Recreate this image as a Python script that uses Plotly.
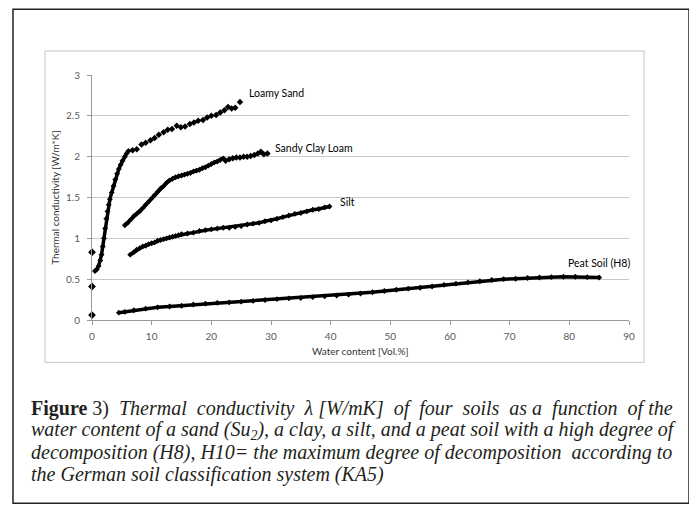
import plotly.graph_objects as go

# ---------------- data ----------------
# Loamy Sand: dense rising part and sparse upper part
loamy_x_dense = [0.5, 0.8, 1.1, 1.4, 1.6, 1.8, 2.0, 2.2, 2.4, 2.6, 2.8, 3.0, 3.3, 3.6, 3.9, 4.2, 4.5, 4.8, 5.1, 5.5, 5.8, 6.1]
loamy_y_dense = [0.60, 0.62, 0.66, 0.73, 0.80, 0.90, 1.00, 1.12, 1.24, 1.33, 1.41, 1.48, 1.56, 1.64, 1.72, 1.79, 1.85, 1.90, 1.95, 2.00, 2.04, 2.07]
loamy_x_sparse = [6.8, 7.5, 8.3, 9.0, 9.8, 10.5, 11.2, 12.0, 12.7, 13.4, 14.2, 14.9, 15.6, 16.4, 17.1, 17.8, 18.6, 19.3, 20.0, 20.8, 21.5, 22.2, 22.8, 23.4, 24.0, 24.8]
loamy_y_sparse = [2.08, 2.09, 2.15, 2.17, 2.20, 2.23, 2.27, 2.30, 2.33, 2.34, 2.38, 2.36, 2.37, 2.40, 2.42, 2.44, 2.45, 2.48, 2.50, 2.51, 2.54, 2.57, 2.61, 2.59, 2.60, 2.67]

# Sandy Clay Loam
scl_x_dense = [5.5, 6.0, 6.5, 7.0, 7.5, 8.0, 8.5, 9.0, 9.5, 10.0, 10.5, 11.0, 11.5, 12.0, 12.5, 13.0, 13.5, 14.0, 14.5, 15.0, 15.5, 16.0, 16.5, 17.0, 17.5, 18.0, 18.5, 19.0, 19.5, 20.0, 20.5, 21.0, 21.5, 22.0]
scl_y_dense = [1.16, 1.19, 1.23, 1.27, 1.30, 1.33, 1.37, 1.41, 1.45, 1.49, 1.53, 1.57, 1.61, 1.64, 1.68, 1.71, 1.73, 1.75, 1.76, 1.77, 1.78, 1.79, 1.80, 1.82, 1.83, 1.84, 1.86, 1.87, 1.89, 1.91, 1.93, 1.94, 1.96, 1.98]
scl_x_sparse = [22.4, 23.0, 23.6, 24.2, 24.8, 25.4, 26.0, 26.6, 27.2, 27.8, 28.3, 28.8, 29.4]
scl_y_sparse = [1.95, 1.97, 1.98, 1.99, 1.99, 2.00, 2.00, 2.01, 2.02, 2.04, 2.06, 2.03, 2.04]

# Silt
silt_x = [6.4, 7.0, 7.5, 8.0, 8.5, 9.0, 9.5, 10.0, 10.5, 11.0, 11.5, 12.0, 12.5, 13.0, 13.5, 14.0, 14.5, 15.0, 16, 17, 18, 19, 20, 21, 22, 23, 24, 25, 26, 27, 28, 29, 30, 31, 32, 33, 34, 35, 36, 37, 38, 39, 39.8]
silt_y = [0.80, 0.83, 0.86, 0.88, 0.90, 0.91, 0.93, 0.94, 0.95, 0.97, 0.98, 0.99, 1.00, 1.01, 1.02, 1.03, 1.04, 1.05, 1.06, 1.07, 1.09, 1.10, 1.11, 1.12, 1.13, 1.13, 1.14, 1.15, 1.17, 1.18, 1.19, 1.21, 1.22, 1.24, 1.26, 1.28, 1.30, 1.31, 1.33, 1.35, 1.36, 1.38, 1.39]

# Peat Soil (H8)
peat_x = [4.5, 5.5, 7, 9, 11, 13, 15, 17, 19, 21, 23, 25, 27, 29, 31, 33, 35, 37, 39, 41, 43, 45, 47, 49, 51, 53, 55, 57, 59, 61, 63, 65, 67, 69, 71, 73, 75, 77, 79, 81, 83, 85]
peat_y = [0.09, 0.10, 0.12, 0.14, 0.155, 0.165, 0.175, 0.19, 0.20, 0.21, 0.215, 0.225, 0.235, 0.245, 0.255, 0.265, 0.27, 0.28, 0.29, 0.30, 0.31, 0.325, 0.34, 0.355, 0.37, 0.385, 0.395, 0.41, 0.43, 0.445, 0.46, 0.475, 0.49, 0.50, 0.505, 0.515, 0.52, 0.525, 0.53, 0.53, 0.525, 0.52]

# dry samples at 0 vol.%
dry_x = [0, 0, 0]
dry_y = [0.83, 0.41, 0.06]

series_labels = ["Loamy Sand", "Sandy Clay Loam", "Silt", "Peat Soil (H8)"]
label_x = [26.0, 30.3, 41.2, 79.5]
label_y = [2.78, 2.11, 1.44, 0.70]

x_ticks = [0, 10, 20, 30, 40, 50, 60, 70, 80, 90]
y_ticks = [0, 0.5, 1, 1.5, 2, 2.5, 3]

NB = "\u00a0 "  # widened gap to imitate the justified caption
caption_lines = [
    "<b>Figure</b> 3)" + NB + "<i>Thermal" + NB + "conductivity" + NB + "λ [W/mK]" + NB + "of" + NB
    + "four" + NB + "soils" + NB + "as a" + NB + "function" + NB + "of the</i>",
    "<i>water content of a sand (Su<sub>2</sub>), a clay, a silt, and a peat soil with a high degree of</i>",
    "<i>decomposition (H8), H10= the maximum degree of decomposition" + NB + "according to</i>",
    "<i>the German soil classification system (KA5)</i>",
]

# ---------------- layout helpers (screen pixels -> paper) ----------------
W, H = 697, 506
OFF = 8  # default page margin of the html body
PX0, PX1, PY0, PY1 = 92, 629, 75, 320.5


def px(x):
    return (x - PX0) / (PX1 - PX0)


def py(y):
    return (PY1 - y) / (PY1 - PY0)


fig = go.Figure()


def add(xs, ys, dense, size=4.5):
    fig.add_trace(go.Scatter(
        x=xs, y=ys,
        mode="lines+markers" if dense else "markers",
        line=dict(color="black", width=3.5),
        marker=dict(symbol="diamond", size=size, color="black"),
        showlegend=False, hoverinfo="skip", cliponaxis=False))


add(loamy_x_dense, loamy_y_dense, True)
add(loamy_x_sparse, loamy_y_sparse, False, size=5)
add(scl_x_dense, scl_y_dense, True)
add(scl_x_sparse, scl_y_sparse, False, size=5)
add(silt_x, silt_y, True)
add(peat_x, peat_y, True)
add(dry_x, dry_y, False, size=6)

annotations = []
for t, x, y in zip(series_labels, label_x, label_y):
    annotations.append(dict(x=x, y=y, xref="x", yref="y", text=t, showarrow=False,
                            xanchor="left", yanchor="middle",
                            font=dict(family="Lato", size=10.5, color="#000000")))

annotations.append(dict(x=0.5, y=py(352), xref="paper", yref="paper",
                        text="Water content [Vol.%]", showarrow=False,
                        xanchor="center", yanchor="middle",
                        font=dict(family="Lato", size=10, color="#333333")))
annotations.append(dict(x=px(55), y=py(198), xref="paper", yref="paper",
                        text="Thermal conductivity [W/m*K]", showarrow=False, textangle=-90,
                        xanchor="center", yanchor="middle",
                        font=dict(family="Lato", size=10, color="#333333")))

cap_y = [409, 431, 453, 475]
for line, yy in zip(caption_lines, cap_y):
    annotations.append(dict(x=px(29), y=py(yy), xref="paper", yref="paper",
                            text=line, showarrow=False, xanchor="left", yanchor="middle",
                            font=dict(family="Liberation Serif", size=20, color="#231f20")))

shapes = [
    dict(type="rect", xref="paper", yref="paper",
         x0=px(13), x1=px(689), y0=py(9), y1=py(504),
         line=dict(color="#222222", width=1.5), layer="below"),
    dict(type="rect", xref="paper", yref="paper",
         x0=px(45), x1=px(644), y0=py(51), y1=py(363),
         line=dict(color="#c4c4c4", width=1), layer="below"),
]

fig.update_layout(
    width=W - OFF, height=H - OFF,
    margin=dict(l=PX0 - OFF, r=W - PX1, t=PY0 - OFF, b=H - PY1, pad=0),
    paper_bgcolor="white", plot_bgcolor="white",
    showlegend=False,
    annotations=annotations, shapes=shapes,
    xaxis=dict(range=[0, 90], tickvals=x_ticks, showgrid=False, zeroline=False,
               showline=True, linecolor="#9a9a9a", linewidth=1,
               ticks="outside", ticklen=4, tickcolor="#9a9a9a",
               ticklabelstandoff=3,
               tickfont=dict(family="Lato", size=10, color="#595959"), fixedrange=True),
    yaxis=dict(range=[0, 3.0005], tickvals=y_ticks, showgrid=True, gridcolor="#c8c8c8",
               gridwidth=1, zeroline=False,
               showline=True, linecolor="#9a9a9a", linewidth=1,
               ticks="outside", ticklen=4, tickcolor="#9a9a9a",
               ticklabelstandoff=5,
               tickfont=dict(family="Lato", size=10, color="#595959"), fixedrange=True),
)

fig.write_html("out.html")
